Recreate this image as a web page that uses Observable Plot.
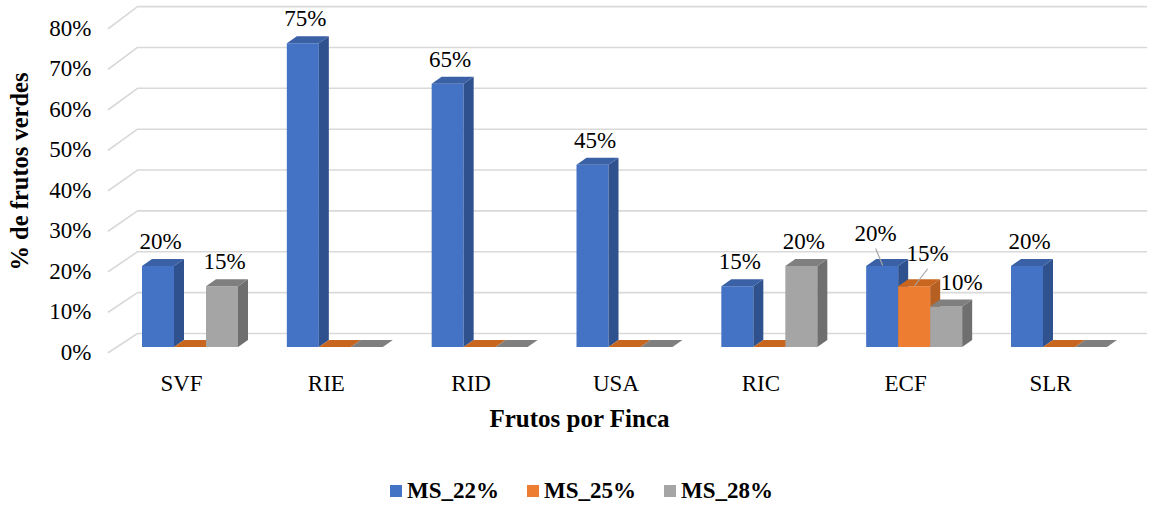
<!DOCTYPE html>
<html>
<head>
<meta charset="utf-8">
<script src="https://cdn.jsdelivr.net/npm/d3@7"></script>
<script src="https://cdn.jsdelivr.net/npm/@observablehq/plot@0.6"></script>
<style>
  body { margin: 0; background: #fff; font-family: "Liberation Serif", Tinos, "DejaVu Serif", "Times New Roman", Times, serif; }
  #legend { display: flex; justify-content: center; gap: 28px; height: 34px; line-height: 34px;
            font-weight: bold; font-size: 23px; padding-left: 13px; color: #000; }
  #legend span.item { display: inline-flex; align-items: center; }
  #legend i { display: inline-block; width: 12px; height: 12px; margin-right: 5px; }
</style>
</head>
<body>
<div id="chart"></div>
<div id="legend"></div>
<script>
// Farms (categories) and share of green fruit per dry-matter class
const categories = ["SVF", "RIE", "RID", "USA", "RIC", "ECF", "SLR"];
const seriesNames = ["MS_22%", "MS_25%", "MS_28%"];
const ms22 = [0.20, 0.75, 0.65, 0.45, 0.15, 0.20, 0.20];
const ms25 = [0.00, 0.00, 0.00, 0.00, 0.00, 0.15, 0.00];
const ms28 = [0.15, 0.00, 0.00, 0.00, 0.20, 0.10, 0.00];
const yTicks = [0, 0.1, 0.2, 0.3, 0.4, 0.5, 0.6, 0.7, 0.8];
const yTickLabels = ["0%", "10%", "20%", "30%", "40%", "50%", "60%", "70%", "80%"];

const seriesValues = [ms22, ms25, ms28];

// Face colours: front, side, top
const faces = [
  {front: "#4472c4", side: "#2f528f", top: "#3a60a6"},
  {front: "#ed7d31", side: "#b65f22", top: "#c8661f"},
  {front: "#a5a5a5", side: "#6f6f6f", top: "#7f7f7f"}
];

const SERIF = "'Liberation Serif', Tinos, 'DejaVu Serif', 'Times New Roman', Times, serif";
const FS = 23; // label font size

// Scale layout (pixels)
const X_RANGE = [190, 1059];
const Y_RANGE = [347, 23];
const XS = (X_RANGE[1] - X_RANGE[0]) / 6;     // pixels per category
const YS = (Y_RANGE[0] - Y_RANGE[1]) / 0.8;   // pixels per unit of share
const px2x = p => (p - X_RANGE[0]) / XS;      // absolute pixel -> x units
const dxu = p => p / XS;                      // pixel length -> x units
const dyu = p => p / YS;                      // pixel length -> y units

// 3D look
const BAR_W = 32, DEPTH_X = 10, DEPTH_Y = 7;
const WALL_K = 1.009, WALL_UP = 14, FLOOR_DOWN = 5;

const bars = categories.flatMap((cat, i) => seriesNames.map((s, k) => {
  const x1 = i + dxu((k - 1.5) * BAR_W);
  const x2 = x1 + dxu(BAR_W);
  return {cat, i, k, series: s, v: seriesValues[k][i], x1, x2, cx: (x1 + x2) / 2, id: cat + "|" + k};
}));

const D = dxu(DEPTH_X), E = dyu(DEPTH_Y);
const sidePts = bars.flatMap(b => [
  {id: b.id, k: b.k, x: b.x2, lo: 0, hi: b.v},
  {id: b.id, k: b.k, x: b.x2 + D, lo: E, hi: b.v + E}
]);
const topPts = bars.flatMap(b => [
  {id: b.id, k: b.k, x: b.x1, lo: b.v, hi: b.v},
  {id: b.id, k: b.k, x: b.x1 + D, lo: b.v, hi: b.v + E},
  {id: b.id, k: b.k, x: b.x2, lo: b.v, hi: b.v + E},
  {id: b.id, k: b.k, x: b.x2 + D, lo: b.v + E, hi: b.v + E}
]);

// Grid: short floor diagonal, then the line along the back wall
const gridPts = yTicks.flatMap(t => [
  {t, x: px2x(108), y: t - dyu(FLOOR_DOWN)},
  {t, x: px2x(137), y: t * WALL_K + dyu(WALL_UP)},
  {t, x: px2x(1146), y: t * WALL_K + dyu(WALL_UP)}
]);

// Value labels (non-zero bars); a few are moved aside and get a leader line
const labelNudge = {
  "ECF|0": {dx: -7, up: 33, leader: true},
  "ECF|1": {dx: 13, up: 33, leader: true},
  "ECF|2": {dx: 15, up: 24.5}
};
const labels = bars.filter(b => b.v > 0).map(b => {
  const n = labelNudge[b.id] || {dx: 2, up: 25};
  return {...b, lx: b.cx + dxu(n.dx), ly: b.v + dyu(n.up), leader: !!n.leader,
          text: Math.round(b.v * 100) + "%"};
});
const leaders = labels.filter(d => d.leader);

const marks = [
  Plot.line(gridPts, {x: "x", y: "y", z: "t", stroke: "#d9d9d9", strokeWidth: 1.6})
];
for (let k = 0; k < 3; k++) {
  const f = faces[k];
  marks.push(
    Plot.rect(bars.filter(b => b.k === k), {x1: "x1", x2: "x2", y1: 0, y2: "v", fill: f.front}),
    Plot.area(sidePts.filter(p => p.k === k), {x1: "x", y1: "lo", y2: "hi", z: "id", fill: f.side}),
    Plot.area(topPts.filter(p => p.k === k), {x1: "x", y1: "lo", y2: "hi", z: "id", fill: f.top})
  );
}
marks.push(
  Plot.link(leaders, {x1: "lx", y1: d => d.ly - dyu(15), x2: "cx", y2: d => d.v + dyu(1),
                      stroke: "#a6a6a6", strokeWidth: 1.2}),
  Plot.text(labels, {x: "lx", y: "ly", text: "text", fontSize: FS, lineAnchor: "middle", fontFamily: SERIF}),
  // y tick labels
  Plot.text(yTicks, {frameAnchor: "left", y: d => d, text: (d, i) => yTickLabels[i],
                     dx: 91, dy: 5, textAnchor: "end", fontSize: FS, lineAnchor: "middle", fontFamily: SERIF}),
  // category labels
  Plot.text(categories, {x: (d, i) => i, y: 0, text: d => d, dx: -9, dy: 36, fontSize: FS,
                         lineAnchor: "middle", fontFamily: SERIF}),
  // axis titles
  Plot.text(["Frutos por Finca"], {frameAnchor: "top", text: d => d, dx: 4, dy: 418, fontFamily: SERIF,
                                   textAnchor: "middle", lineAnchor: "middle", fontSize: 25, fontWeight: "bold"}),
  Plot.text(["% de frutos verdes"], {frameAnchor: "top-left", text: d => d, dx: 20, dy: 171, rotate: -90, fontFamily: SERIF,
                                     textAnchor: "middle", lineAnchor: "middle", fontSize: 24.5, fontWeight: "bold"})
);

const chart = Plot.plot({
  width: 1150,
  height: 474,
  marginTop: 0, marginRight: 0, marginBottom: 0, marginLeft: 0,
  x: {type: "linear", domain: [0, 6], range: X_RANGE, axis: null},
  y: {type: "linear", domain: [0, 0.8], range: Y_RANGE, axis: null},
  style: {fontFamily: SERIF, color: "#000", background: "#fff", overflow: "visible"},
  marks
});
document.getElementById("chart").appendChild(chart);

// Legend below the chart
const legend = document.getElementById("legend");
seriesNames.forEach((s, k) => {
  const item = document.createElement("span");
  item.className = "item";
  const sw = document.createElement("i");
  sw.style.background = faces[k].front;
  item.appendChild(sw);
  item.appendChild(document.createTextNode(s));
  legend.appendChild(item);
});
</script>
</body>
</html>
